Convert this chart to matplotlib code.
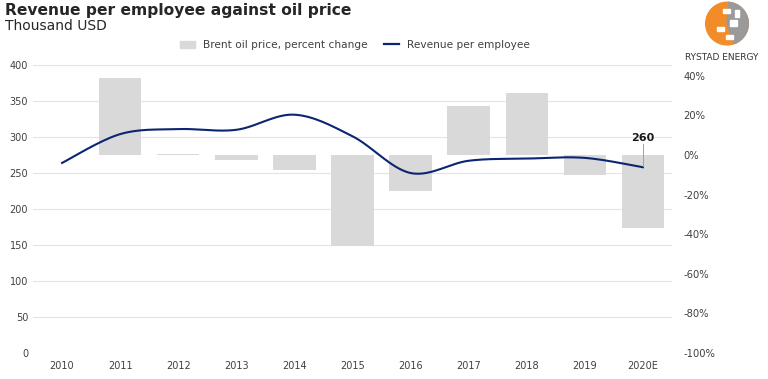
import numpy as np
import matplotlib.pyplot as plt
from matplotlib.patches import Circle, Wedge, Rectangle

years = ['2010', '2011', '2012', '2013', '2014', '2015', '2016', '2017', '2018', '2019', '2020E']
brent_change = [0, 39, 0.6, -2.7, -7.5, -46, -18, 25, 31.5, -10, -37]
revenue = [264, 304, 311, 310, 331, 301, 250, 267, 270, 271, 258]

NAVY = '#0a2572'
BAR = '#d9d9d9'
TXT = '#404040'


def smooth(x, y, n=30):
    # Excel-style smoothed line (Catmull-Rom Bezier through the points)
    x = np.asarray(x, float)
    y = np.asarray(y, float)
    px = np.concatenate([[x[0]], x, [x[-1]]])
    py = np.concatenate([[y[0]], y, [y[-1]]])
    xs, ys = [], []
    t = np.linspace(0, 1, n)
    for i in range(1, len(px) - 2):
        p0 = np.array([px[i], py[i]])
        p3 = np.array([px[i + 1], py[i + 1]])
        c1 = p0 + (np.array([px[i + 1], py[i + 1]]) - np.array([px[i - 1], py[i - 1]])) / 6
        c2 = p3 - (np.array([px[i + 2], py[i + 2]]) - p0) / 6
        b = ((1 - t) ** 3)[:, None] * p0 + (3 * (1 - t) ** 2 * t)[:, None] * c1 \
            + (3 * (1 - t) * t ** 2)[:, None] * c2 + (t ** 3)[:, None] * p3
        xs.extend(b[:, 0])
        ys.extend(b[:, 1])
    return np.array(xs), np.array(ys)


fig = plt.figure(figsize=(7.68, 3.79), dpi=100)
pos = [33 / 768, 1 - 353 / 379, 639 / 768, 288 / 379]
x = np.arange(len(years))

ax = fig.add_axes(pos)
ax.set_xlim(-0.5, len(years) - 0.5)
ax.set_ylim(0, 400)
ax.set_yticks(range(0, 401, 50))
ax.set_xticks(x)
ax.set_xticklabels(years)
ax.grid(axis='y', color='#e3e3e3', linewidth=0.8)
ax.set_axisbelow(True)
for s in ax.spines.values():
    s.set_visible(False)
ax.tick_params(length=0, labelsize=7, colors=TXT)
ax.tick_params(axis='x', pad=6)

# bars on the right axis
ax2 = ax.twinx()
ax2.set_ylim(-100, 45.5)
ax2.bar(x, brent_change, width=0.73, color=BAR, zorder=2)
ax2.set_yticks(range(-100, 41, 20))
ax2.set_yticklabels([f'{v}%' for v in range(-100, 41, 20)])
for s in ax2.spines.values():
    s.set_visible(False)
ax2.tick_params(length=0, labelsize=7.2, colors=TXT, pad=8)

# line on top
ax3 = ax.twinx()
ax3.set_ylim(0, 400)
ax3.axis('off')
sx, sy = smooth(x, revenue)
ax3.plot(sx, sy, color=NAVY, linewidth=1.5)
last = len(years) - 1
ax3.plot([last, last], [revenue[-1] + 2, revenue[-1] + 32], color='#a0a0a0', linewidth=0.7)
ax3.text(last, revenue[-1] + 34, f'{round(revenue[-1], -1):.0f}', ha='center', va='bottom',
         fontsize=8, fontweight='bold', color='#1a1a1a')

# legend
lh = [Rectangle((0, 0), 1, 1, color=BAR),
      plt.Line2D([0], [0], color=NAVY, linewidth=1.6)]
fig.legend(lh, ['Brent oil price, percent change', 'Revenue per employee'],
           loc='center', bbox_to_anchor=(355 / 768, 1 - 45 / 379), ncol=2, frameon=False,
           fontsize=7.6, handlelength=1.4, handleheight=0.6, columnspacing=1.5,
           labelcolor=TXT)

fig.text(5 / 768, 1 - 10 / 379, 'Revenue per employee against oil price', fontsize=11.2,
         fontweight='bold', color='#262626', va='center')
fig.text(5 / 768, 1 - 26 / 379, 'Thousand USD', fontsize=10, color='#262626', va='center')

# logo
lax = fig.add_axes([700 / 768, 1 - 46 / 379, 54 / 768, 46 / 379])
lax.set_xlim(-1.2, 1.2)
lax.set_ylim(-1.0, 1.05)
lax.set_aspect('equal')
lax.axis('off')
lax.add_patch(Circle((0, 0), 0.95, color='#f28c28'))
lax.add_patch(Wedge((0, 0), 0.95, -70, 85, color='#9a9a9a'))
for rx, ry, rw, rh in [(-0.2, 0.45, 0.35, 0.2), (0.15, -0.1, 0.3, 0.25), (-0.45, -0.35, 0.3, 0.2),
                       (0.35, 0.3, 0.2, 0.3), (-0.05, -0.7, 0.3, 0.2)]:
    lax.add_patch(Rectangle((rx, ry), rw, rh, color='white'))
fig.text(722 / 768, 1 - 58 / 379, 'RYSTAD ENERGY', fontsize=6.5, color='#333333',
         ha='center', va='center')

fig.savefig('out.png', dpi=100)
